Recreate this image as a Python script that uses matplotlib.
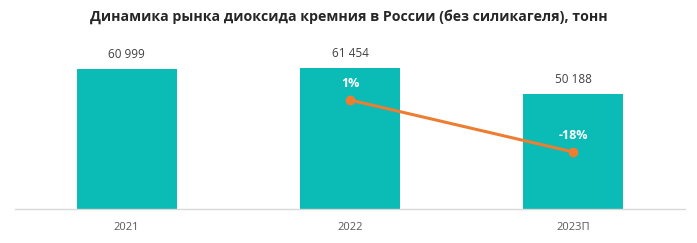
import matplotlib
matplotlib.use("Agg")
import matplotlib.pyplot as plt
import numpy as np

plt.rcParams['font.family'] = ['Open Sans', 'DejaVu Sans']

years = ['2021', '2022', '2023П']
volume = [60999, 61454, 50188]
growth_years = ['2022', '2023П']
growth = [1, -18]
volume_labels = ['60 999', '61 454', '50 188']
growth_labels = ['1%', '-18%']

bar_color = '#0BBBB5'
line_color = '#ED7D31'

fig = plt.figure(figsize=(6.97, 2.43), dpi=100)
ax = fig.add_axes([15 / 697, 34 / 243, 670 / 697, 169 / 243])
x = np.arange(len(years))
ax.bar(x, volume, width=0.447, color=bar_color, zorder=2)
ax.set_xlim(-0.5, 2.5)
ax.set_ylim(0, 73640)
for xi, v, lab in zip(x, volume, volume_labels):
    ax.annotate(lab, (xi, v), xytext=(0, 5.5), textcoords='offset points',
                ha='center', va='bottom', fontsize=8.5, color='#404040')

ax.set_xticks(x)
ax.set_xticklabels(years, fontsize=8, color='#595959')
ax.tick_params(axis='x', length=0, pad=9)
ax.set_yticks([])
for s in ['top', 'left', 'right']:
    ax.spines[s].set_visible(False)
ax.spines['bottom'].set_color('#D9D9D9')
ax.spines['bottom'].set_linewidth(1)

ax2 = ax.twinx()
gx = [years.index(y) for y in growth_years]
ax2.plot(gx, growth, color=line_color, lw=2.2, marker='o', ms=6, zorder=3)
ax2.set_ylim(-38.8, 22.9)
ax2.set_yticks([])
for s in ['top', 'left', 'right', 'bottom']:
    ax2.spines[s].set_visible(False)
for xi, g, lab in zip(gx, growth, growth_labels):
    ax2.annotate(lab, (xi, g), xytext=(0, 7), textcoords='offset points',
                 ha='center', va='bottom', fontsize=9, color='white',
                 fontweight='bold')

fig.text(0.5, 1 - 17 / 243, 'Динамика рынка диоксида кремния в России (без силикагеля), тонн',
         ha='center', va='center', fontsize=10.2, fontweight='bold', color='#262626')

fig.savefig('out.png', dpi=100)
